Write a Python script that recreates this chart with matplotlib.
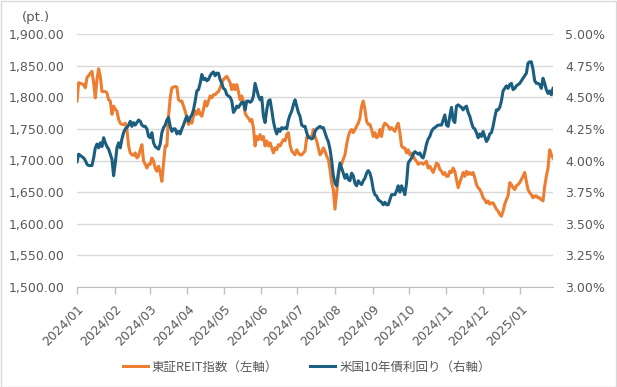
import pandas as pd
import matplotlib
matplotlib.use("Agg")
import matplotlib.pyplot as plt
from matplotlib.patches import Rectangle

# 東証REIT指数 (pt.) - left axis
reit = [
    1794, 1823, 1822, 1821, 1820, 1815, 1831, 1834, 1838, 1841, 1823, 1799, 1828, 1845, 1833,
    1809, 1809, 1809, 1807, 1796, 1794, 1773, 1786, 1781, 1778, 1765, 1759, 1757, 1757, 1759,
    1749, 1723, 1712, 1709, 1708, 1712, 1704, 1707, 1717, 1725, 1699, 1694, 1688, 1694, 1694,
    1704, 1699, 1688, 1683, 1691, 1681, 1667, 1696, 1723, 1723, 1770, 1799,
    1815, 1816, 1817, 1816, 1796, 1794, 1794, 1786, 1778, 1767, 1757, 1762, 1759, 1770, 1778,
    1773, 1781, 1773, 1770, 1781, 1794, 1786, 1794, 1802, 1799, 1804, 1804, 1807, 1809, 1815,
    1823, 1828, 1831, 1833, 1828, 1823, 1812, 1820, 1812, 1820, 1809, 1796, 1802, 1794, 1775,
    1770, 1767, 1762, 1765, 1752, 1723, 1738, 1733, 1741, 1733, 1738, 1723,
    1731, 1723, 1728, 1720, 1712, 1720, 1717, 1725, 1723, 1728, 1733, 1731, 1741, 1744, 1725,
    1715, 1712, 1709, 1717, 1712, 1709, 1709, 1712, 1715, 1736, 1738, 1738, 1736, 1749, 1738,
    1731, 1720, 1709, 1712, 1720, 1715, 1707, 1702, 1686, 1665, 1654, 1623, 1649, 1675, 1691,
    1694, 1702, 1709, 1725, 1738, 1746, 1749, 1744, 1749, 1754, 1759, 1767,
    1786, 1794, 1781, 1762, 1757, 1757, 1749, 1738, 1744, 1736, 1738, 1749, 1738, 1754, 1759,
    1757, 1754, 1749, 1752, 1749, 1746, 1754, 1759, 1744, 1723, 1720, 1720, 1712, 1717, 1709,
    1712, 1707, 1702, 1699, 1694, 1696, 1696, 1694, 1696, 1699, 1688, 1691, 1686, 1681, 1688,
    1696, 1694, 1686, 1683, 1678, 1681, 1675, 1675, 1683, 1681, 1688, 1683,
    1670, 1657, 1665, 1673, 1681, 1675, 1683, 1678, 1681, 1678, 1681, 1673, 1662, 1657, 1654,
    1649, 1641, 1638, 1633, 1636, 1631, 1633, 1633, 1628, 1623, 1620, 1615, 1612, 1620, 1631,
    1638, 1644, 1665, 1662, 1657, 1654, 1660, 1662, 1665, 1670, 1675, 1681, 1667, 1654, 1649,
    1646, 1641, 1644, 1644, 1641, 1641, 1638, 1636, 1659, 1675, 1688, 1717, 1709, 1704,
]

# 米国10年債利回り (%) - right axis
ust10y = [
    3.99, 4.05, 4.04, 4.03, 4.02, 4.00, 3.97, 3.96, 3.96, 3.96, 4.02, 4.10, 4.13, 4.10, 4.14,
    4.11, 4.18, 4.14, 4.11, 4.09, 4.05, 4.01, 3.88, 3.98, 4.10, 4.14, 4.10, 4.17, 4.22, 4.25,
    4.26, 4.28, 4.31, 4.27, 4.30, 4.28, 4.30, 4.32, 4.31, 4.28, 4.27, 4.27, 4.25, 4.19, 4.18,
    4.22, 4.14, 4.11, 4.10, 4.09, 4.13, 4.22, 4.26, 4.28, 4.32, 4.34, 4.27,
    4.23, 4.25, 4.25, 4.21, 4.23, 4.21, 4.25, 4.28, 4.32, 4.35, 4.31, 4.34, 4.36, 4.40, 4.47,
    4.55, 4.56, 4.61, 4.68, 4.64, 4.65, 4.63, 4.64, 4.67, 4.69, 4.70, 4.67, 4.69, 4.69, 4.64,
    4.61, 4.57, 4.56, 4.52, 4.51, 4.50, 4.47, 4.38, 4.40, 4.43, 4.42, 4.44, 4.46, 4.46, 4.40,
    4.47, 4.47, 4.46, 4.47, 4.51, 4.61, 4.56, 4.51, 4.48, 4.50, 4.35, 4.30,
    4.40, 4.47, 4.48, 4.40, 4.31, 4.25, 4.21, 4.25, 4.23, 4.26, 4.25, 4.26, 4.25, 4.32, 4.36,
    4.39, 4.44, 4.48, 4.43, 4.38, 4.35, 4.28, 4.27, 4.27, 4.22, 4.18, 4.18, 4.17, 4.18, 4.23,
    4.25, 4.26, 4.27, 4.26, 4.26, 4.22, 4.18, 4.15, 4.09, 4.00, 3.88, 3.82, 3.80, 3.90, 3.98,
    3.94, 3.90, 3.86, 3.89, 3.85, 3.84, 3.90, 3.88, 3.82, 3.80, 3.84, 3.82,
    3.81, 3.84, 3.86, 3.90, 3.92, 3.90, 3.85, 3.77, 3.73, 3.72, 3.69, 3.68, 3.67, 3.65, 3.67,
    3.65, 3.65, 3.69, 3.73, 3.73, 3.73, 3.76, 3.80, 3.75, 3.80, 3.77, 3.73, 3.82, 3.98, 4.00,
    4.02, 4.05, 4.07, 4.06, 4.05, 4.06, 4.03, 4.02, 4.07, 4.13, 4.17, 4.19, 4.23, 4.25, 4.26,
    4.27, 4.28, 4.28, 4.28, 4.32, 4.36, 4.28, 4.27, 4.35, 4.42, 4.32, 4.30,
    4.43, 4.44, 4.43, 4.42, 4.40, 4.42, 4.43, 4.38, 4.35, 4.30, 4.26, 4.25, 4.22, 4.18, 4.21,
    4.19, 4.23, 4.19, 4.15, 4.17, 4.21, 4.22, 4.27, 4.34, 4.40, 4.40, 4.42, 4.47, 4.55, 4.57,
    4.59, 4.57, 4.60, 4.61, 4.56, 4.57, 4.59, 4.60, 4.61, 4.63, 4.65, 4.67, 4.69, 4.77, 4.78,
    4.78, 4.72, 4.63, 4.61, 4.61, 4.60, 4.57, 4.65, 4.61, 4.56, 4.53, 4.55, 4.52, 4.57,
]

start_date = "2024-01-04"
end_date = "2025-01-31"
dates = pd.date_range(start_date, end_date, periods=len(reit))
tick_dates = pd.date_range(start_date, periods=13, freq=pd.DateOffset(months=1))
tick_labels = [d.strftime("%Y/%m") for d in tick_dates]

left_ticks = [1500, 1550, 1600, 1650, 1700, 1750, 1800, 1850, 1900]
right_ticks = [3.00, 3.25, 3.50, 3.75, 4.00, 4.25, 4.50, 4.75, 5.00]

legend_labels = ["東証REIT指数（左軸）", "米国10年債利回り（右軸）"]

orange = "#ED7D31"
blue = "#1B5E80"
text_col = "#595959"
grid_col = "#D9D9D9"

fig = plt.figure(figsize=(6.17, 3.87), dpi=100)
ax = fig.add_axes([77 / 617, 1 - 287 / 387, (553 - 77) / 617, (287 - 34) / 387])
ax2 = ax.twinx()

line1, = ax.plot(dates, reit, color=orange, lw=2.2)
line2, = ax2.plot(dates, ust10y, color=blue, lw=2.2)

ax.set_xlim(dates[0], dates[-1])
ax.set_ylim(1500, 1900)
ax2.set_ylim(3.0, 5.0)

ax.set_yticks(left_ticks, [f"{v:,.2f}" for v in left_ticks])
ax2.set_yticks(right_ticks, [f"{v:.2f}%" for v in right_ticks])
ax.set_xticks(tick_dates, tick_labels, rotation=45, ha="right",
              rotation_mode="anchor")

ax.yaxis.grid(True, color=grid_col, lw=1)
ax.set_axisbelow(True)

for a in (ax, ax2):
    for s in ("top", "left", "right", "bottom"):
        a.spines[s].set_visible(False)
ax.spines["bottom"].set_visible(True)
ax.spines["bottom"].set_color("#BFBFBF")

ax.tick_params(axis="y", length=0, pad=9, labelsize=9, labelcolor=text_col)
ax2.tick_params(axis="y", length=0, pad=9, labelsize=9, labelcolor=text_col)
ax.tick_params(axis="x", length=5, width=1, color="#BFBFBF", pad=6,
               labelsize=9, labelcolor=text_col)

fig.text(22 / 617, 1 - 18 / 387, "(pt.)", fontsize=9.5, color=text_col, va="center")

fig.legend([line1, line2], legend_labels, loc="center",
           bbox_to_anchor=(0.497, 1 - 367 / 387), ncol=2, frameon=False,
           handlelength=2.0, handletextpad=0.3, columnspacing=2.6,
           labelcolor=text_col,
           prop={"family": ["Noto Sans CJK JP", "DejaVu Sans"], "size": 9})

fig.patches.append(Rectangle((0.001, 0.001), 0.997, 0.997, transform=fig.transFigure,
                             fill=False, edgecolor=grid_col, lw=1))

fig.savefig("out.png", dpi=100)
